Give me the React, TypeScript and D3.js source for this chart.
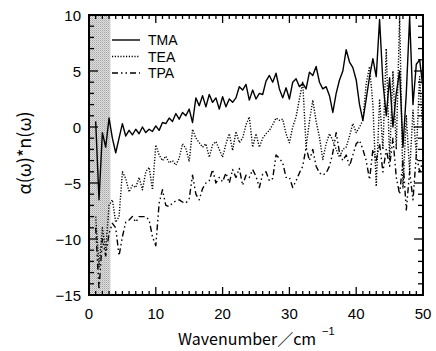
import React from "react";
import * as d3 from "d3";

const wavenumbers = [
  1.0, 1.5, 2.0, 2.5, 3.0, 3.5, 4.0, 4.5, 5.0, 5.5, 6.0, 6.5, 7.0, 7.5, 8.0, 8.5, 9.0, 9.5, 10.0, 10.5,
  11.0, 11.5, 12.0, 12.5, 13.0, 13.5, 14.0, 14.5, 15.0, 15.5, 16.0, 16.5, 17.0, 17.5, 18.0, 18.5, 19.0, 19.5, 20.0, 20.5,
  21.0, 21.5, 22.0, 22.5, 23.0, 23.5, 24.0, 24.5, 25.0, 25.5, 26.0, 26.5, 27.0, 27.5, 28.0, 28.5, 29.0, 29.5, 30.0, 30.5,
  31.0, 31.5, 32.0, 32.5, 33.0, 33.5, 34.0, 34.5, 35.0, 35.5, 36.0, 36.5, 37.0, 37.5, 38.0, 38.5, 39.0, 39.5, 40.0, 40.5,
  41.0, 41.5, 42.0, 42.5, 43.0, 43.5, 44.0, 44.5, 45.0, 45.5, 46.0, 46.5, 47.0, 47.5, 48.0, 48.5, 49.0, 49.5, 50.0,
];

const tma = [
  0.5, -6.5, -0.5, -1.8, 0.8, -1.0, -2.3, -1.0, 0.3, -0.8, -0.3, -0.7, -0.2, -0.6, 0.0, -0.5, -0.2, -0.4, 0.1, -0.3,
  0.4, 0.3, 0.8, 0.5, 1.2, 0.7, 1.3, 1.0, 1.6, 0.4, 2.6, 1.9, 2.8, 1.8, 2.9, 2.2, 2.6, 1.6, 2.7, 1.8,
  2.5, 2.2, 2.6, 3.6, 3.3, 3.8, 2.4, 3.3, 2.5, 3.0, 2.9, 4.1, 4.6, 4.0, 4.8, 3.4, 2.6, 3.5, 2.5, 4.0,
  4.3, 3.6, 3.9, 3.4, 4.9, 4.6, 5.4, 4.0, 3.4, 3.6, 2.8, 1.3, 3.0, 4.2, 5.0, 6.9, 5.8, 5.3, 4.2, 2.0,
  0.6, 2.5, 4.5, 6.1, 4.5, 9.6, 4.0, 1.0, 4.4, 0.0, 3.0, 5.0, -1.8, 3.0, 9.8, 2.0, 5.6, 6.0, 3.5,
];

const tea = [
  -8.0, -12.5, -9.0, -11.0, -7.0, -6.5, -8.5, -8.0, -4.0, -4.6, -5.8, -5.2, -5.4, -4.5, -5.6, -4.0, -3.6, -5.6, -1.6, -2.5,
  -3.0, -2.6, -3.2, -3.0, -3.4, -2.8, -1.5, -1.9, -3.1, -0.2, -1.0, -1.4, -1.8, -1.5, -2.7, -1.6, -1.3, -2.0, -2.7, -1.5,
  -0.6, -2.1, -0.4, -1.4, -1.0, 0.2, 0.9, -1.8, -0.6, -1.8, -1.0, -0.6, -0.3, 0.2, 0.8, 0.6, 0.7, -0.6, -1.4, 0.0,
  0.9, 2.5, 4.0, -1.8, 0.5, 2.4, 0.5, -0.9, -2.9, -1.5, -0.6, -1.2, -2.0, -2.7, -2.0, -1.8, -0.8, 0.3, -0.5, 0.0,
  0.6, 3.9, 5.4, 2.0, -5.3, 2.5, -2.0, 7.0, -3.0, 5.0, -2.0, 10.0, -5.5, 1.0, -4.0, 1.5, -2.5, 4.5, -1.0,
];

const tpa = [
  -9.0, -14.5, -10.0, -11.5, -9.5, -8.6, -9.0, -11.5, -9.8, -8.5, -8.3, -8.0, -8.5, -8.0, -8.0, -8.0, -8.3, -9.8, -10.6, -6.8,
  -5.6, -7.0, -7.1, -6.8, -6.6, -6.5, -6.7, -6.8, -6.4, -4.3, -6.0, -6.5, -5.5, -5.0, -4.8, -3.8, -5.0, -4.5, -4.9, -4.1,
  -5.0, -3.8, -4.5, -3.7, -5.2, -4.3, -4.5, -3.8, -4.4, -5.4, -4.2, -4.0, -4.8, -4.6, -2.5, -2.8, -3.2, -4.5, -4.5, -5.4,
  -4.8, -4.1, -3.5, -1.8, -3.0, -2.0, -3.5, -4.1, -4.3, -4.1, -3.5, -2.3, -0.5, -2.3, -3.0, -2.5, -3.5, -2.5, -1.5, -1.2,
  -2.0, -3.0, -4.7, -2.0, -3.0, -1.5, -4.0, -2.0, -3.5, -1.0, -4.5, -6.0, -3.0, -7.4, -4.0, -6.5, -2.5, -4.0, -3.0,
];

const seriesNames = ["TMA", "TEA", "TPA"];
const xTicks = [0, 10, 20, 30, 40, 50];
const yTicks = [-15, -10, -5, 0, 5, 10];
const shadeRange = [0, 3.2];

const W = 436;
const H = 351;
const M = { left: 89, right: 423, top: 15, bottom: 295 };
const FONT = "'Liberation Sans', 'Noto Sans CJK JP', sans-serif";
const CJK = "'Noto Sans CJK JP', 'DejaVu Sans', sans-serif";

export default function App() {
  const x = d3.scaleLinear().domain([0, 50]).range([M.left, M.right]);
  const y = d3.scaleLinear().domain([-15, 10]).range([M.bottom, M.top]);
  const line = d3
    .line<[number, number]>()
    .x((d) => x(d[0]))
    .y((d) => y(d[1]));
  const mk = (vals: number[]) => wavenumbers.map((w, i) => [w, vals[i]] as [number, number]);
  const styles = [
    { data: tma, dash: undefined as string | undefined, w: 1.4 },
    { data: tea, dash: "1.2,1.6", w: 1.4 },
    { data: tpa, dash: "6,3,1.5,3,1.5,3", w: 1.4 },
  ];
  const xMinor = d3.range(0, 51, 1);
  const yMinor = d3.range(-15, 11, 1);

  return (
    <svg width={W} height={H} style={{ position: "absolute", left: 0, top: 0, background: "#fff" }}>
      <defs>
        <pattern id="dots" width="2" height="2" patternUnits="userSpaceOnUse">
          <rect width="2" height="2" fill="#dcdcdc" />
          <rect width="1" height="1" fill="#a8a8a8" />
          <rect x="1" y="1" width="1" height="1" fill="#c4c4c4" />
        </pattern>
        <clipPath id="plot">
          <rect x={M.left} y={M.top} width={M.right - M.left} height={M.bottom - M.top} />
        </clipPath>
      </defs>
      <rect width={W} height={H} fill="#fff" />
      <rect
        x={x(shadeRange[0])}
        y={M.top}
        width={x(shadeRange[1]) - x(shadeRange[0])}
        height={M.bottom - M.top}
        fill="url(#dots)"
      />
      <g clipPath="url(#plot)">
        {styles.map((s, i) => (
          <path
            key={i}
            d={line(mk(s.data)) || ""}
            fill="none"
            stroke="#000"
            strokeWidth={s.w}
            strokeDasharray={s.dash}
            strokeLinejoin="round"
          />
        ))}
      </g>
      <rect
        x={M.left}
        y={M.top}
        width={M.right - M.left}
        height={M.bottom - M.top}
        fill="none"
        stroke="#000"
        strokeWidth={2}
      />
      {xMinor.map((v) => {
        const major = v % 10 === 0;
        const len = major ? 8 : 4;
        return (
          <g key={"xt" + v}>
            <line x1={x(v)} x2={x(v)} y1={M.bottom} y2={M.bottom - len} stroke="#000" strokeWidth={1.3} />
            <line x1={x(v)} x2={x(v)} y1={M.top} y2={M.top + len} stroke="#000" strokeWidth={1.3} />
          </g>
        );
      })}
      {yMinor.map((v) => {
        const major = v % 5 === 0;
        const len = major ? 9 : 5;
        return (
          <g key={"yt" + v}>
            <line x1={M.left} x2={M.left + len} y1={y(v)} y2={y(v)} stroke="#000" strokeWidth={1.3} />
            <line x1={M.right} x2={M.right - len} y1={y(v)} y2={y(v)} stroke="#000" strokeWidth={1.3} />
          </g>
        );
      })}
      {xTicks.map((v) => (
        <text key={"xl" + v} x={x(v)} y={319} textAnchor="middle" fontSize={15} fontFamily={FONT} fill="#000">
          {v}
        </text>
      ))}
      {yTicks.map((v) => (
        <text key={"yl" + v} x={81} y={y(v) + 5.5} textAnchor="end" fontSize={15} fontFamily={FONT} fill="#000">
          {v < 0 ? "\u2212" + Math.abs(v) : v}
        </text>
      ))}
      <text
        transform={`translate(31,153) rotate(-90)`}
        textAnchor="middle"
        fontSize={18}
        fontFamily={CJK}
        fill="#000"
      >
        α(ω)*n(ω)
      </text>
      <text x={178} y={345} fontSize={16} fontFamily={CJK} fill="#000">
        Wavenumber／cm
      </text>
      <text x={322} y={335} fontSize={11} fontFamily={FONT} fill="#000">
        −1
      </text>
      {styles.map((s, i) => (
        <g key={"lg" + i}>
          <line
            x1={112}
            x2={140}
            y1={40 + i * 16.5}
            y2={40 + i * 16.5}
            stroke="#000"
            strokeWidth={s.w}
            strokeDasharray={s.dash}
          />
          <text x={148} y={40 + i * 16.5 + 5} fontSize={14} fontFamily={FONT} fill="#000">
            {seriesNames[i]}
          </text>
        </g>
      ))}
    </svg>
  );
}
